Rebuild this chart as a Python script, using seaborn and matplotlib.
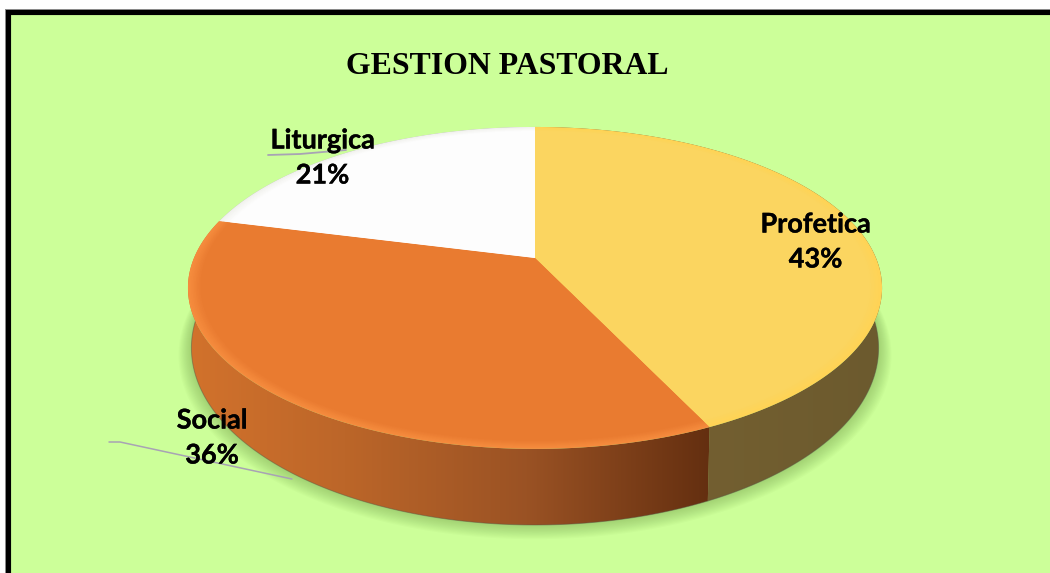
import numpy as np
import matplotlib
matplotlib.use("Agg")
import matplotlib.pyplot as plt
from matplotlib.patches import Polygon, Rectangle
from matplotlib.colors import LinearSegmentedColormap, to_rgb
import matplotlib.patheffects as pe
import seaborn as sns

title = "GESTION PASTORAL"
categories = ["Profetica", "Social", "Liturgica"]
values = [43, 36, 21]
face_colors = ["#FBD560", "#E97B30", "#FDFDFD"]
rim_colors = ["#FFD355", "#F68C3E", "#F2F2EE"]
wall_stops = [
    [(0.0, "#7A6433"), (1.0, "#6C5A2E")],
    [(0.0, "#D2722C"), (0.3, "#BC6629"), (0.65, "#9A5224"), (1.0, "#642F10")],
    [(0.0, "#B0B0B0"), (1.0, "#B0B0B0")],
]
background = "#CCFF99"

sns.set_theme(style="white")
fig = plt.figure(figsize=(10.5, 5.73), dpi=100, facecolor="white")
ax = fig.add_axes([0, 0, 1, 1])

wedges, _ = ax.pie(values, startangle=90, counterclock=False, colors=sns.color_palette(face_colors))
spans = [(w.theta1, w.theta2) for w in wedges]
for w in wedges:
    w.remove()
ax.set_aspect("auto")
ax.axis("off")

# Perspective projection of the pie disc onto the figure
CX, CY = 535.0, 258.0
K, A, S, OFF = 0.186, 155.4, 341.0, 30.0


def project(pts, scale=1.0, sx=1.0, sy=1.0, dy=0.0):
    u, v = pts[:, 0] * scale, pts[:, 1] * scale
    d = 1 + K * v
    x = CX + S * sx * u / d
    y = CY + OFF - (OFF + A * v / d) * sy + dy
    return np.column_stack([x, y])


def rim(theta1, theta2, n=300):
    t = np.radians(np.linspace(theta1, theta2, n))
    return np.column_stack([np.cos(t), np.sin(t)])


def wedge_poly(theta1, theta2):
    return np.vstack([[0.0, 0.0], rim(theta1, theta2)])


ax.add_patch(Rectangle((0, 0), 1050, 573, fc="white", ec="none", zorder=0))
ax.add_patch(Rectangle((8, 11.5), 1100, 700, fc=background, ec="black", lw=3.7, zorder=1))
ax.add_patch(Rectangle((5.4, 9), 1100, 700, fc="none", ec="#777777", lw=0.6, zorder=1))

# soft shadow below the pie
full = rim(0, 360, 500)
base_kw = dict(sx=0.99, sy=1.1, dy=60)
for i in range(12):
    grow = 1 + (12 - i) * 0.0030
    ax.add_patch(Polygon(project(full * grow, sx=0.99, sy=1.1, dy=60 + (12 - i) * 0.4),
                         fc="#6E9A48", ec="none", alpha=0.04, zorder=2))

# side walls, drawn with a left-to-right shade clipped to each slice's outline
for (t1, t2), stops in zip(spans, wall_stops):
    r = rim(t1, t2)
    outline = np.vstack([project(r), project(r, **base_kw)[::-1]])
    poly = Polygon(outline, closed=True, fc="none", ec="none", transform=ax.transData, zorder=3)
    ax.add_patch(poly)
    x0, x1 = outline[:, 0].min(), outline[:, 0].max()
    cmap = LinearSegmentedColormap.from_list("w", stops)
    img = ax.imshow(np.linspace(0, 1, 256)[None, :], cmap=cmap, extent=(x0, x1, 540, 120),
                    aspect="auto", zorder=3, interpolation="bilinear")
    img.set_clip_path(poly)
    ax.plot(*project(r, **base_kw).T, color="#555544", lw=0.7, alpha=0.45, zorder=3)
ax.set_xlim(0, 1050)
ax.set_ylim(573, 0)

# top faces: a soft bevel band that blends into the flat colour
levels = np.linspace(1.0, 0.965, 9)
for (t1, t2), fc, rc in zip(spans, face_colors, rim_colors):
    for i, lev in enumerate(levels):
        t = i / (len(levels) - 1)
        col = tuple((1 - t) * np.array(to_rgb(rc)) + t * np.array(to_rgb(fc)))
        ax.add_patch(Polygon(project(wedge_poly(t1, t2), scale=lev), fc=col, ec="none",
                             zorder=4 + 0.01 * i))

# leader lines
ax.plot([268, 300, 346], [155, 154, 150], color="#A8A3B4", lw=1.3, zorder=6)
ax.plot([109, 120, 292], [442, 442, 479], color="#A8A3B4", lw=1.1, zorder=6)

# texts
label_pos = {"Profetica": (815.5, 242), "Social": (212, 438), "Liturgica": (322.5, 158)}
for cat, val in zip(categories, values):
    x, y = label_pos[cat]
    ax.text(x, y, f"{cat}\n{val}%", ha="center", va="center", family="Lato", weight="bold",
            fontsize=19.5, color="black", linespacing=1.55, zorder=7,
            path_effects=[pe.withStroke(linewidth=0.25, foreground="black")])
ax.text(507, 67, title, ha="center", va="center", family="Liberation Serif", weight="bold",
        fontsize=22.9, color="black", zorder=7)

fig.savefig("out.png", dpi=100)
